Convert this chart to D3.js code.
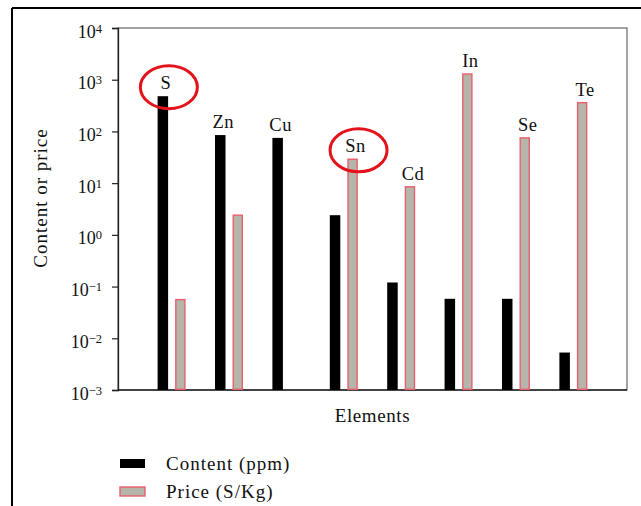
<!DOCTYPE html>
<html>
<head>
<meta charset="utf-8">
<script src="https://cdn.jsdelivr.net/npm/d3@7"></script>
<style>
  body { margin: 0; background: #fff; }
  svg text { font-family: "Liberation Serif", "Times New Roman", Times, "DejaVu Serif", serif; fill: #111; }
</style>
</head>
<body>
<svg id="chart" width="641" height="506"></svg>
<script>
var elements = ["S", "Zn", "Cu", "Sn", "Cd", "In", "Se", "Te"]
var content = [480, 85, 75, 2.4, 0.12, 0.058, 0.058, 0.0053]   // ppm
var price = [0.056, 2.4, null, 29, 8.5, 1290, 75, 360]          // S/Kg
var exponents = [-3, -2, -1, 0, 1, 2, 3, 4]
var circled = ["S", "Sn"]

var svg = d3.select("#chart")
var margin = {left: 118, right: 14, top: 28, bottom: 116}
var W = 641, H = 506

// outer frame (only top and left visible)
svg.append("line").attr("x1", 12).attr("x2", 641).attr("y1", 8).attr("y2", 8)
   .attr("stroke", "#000").attr("stroke-width", 2)
svg.append("line").attr("x1", 12).attr("x2", 12).attr("y1", 8).attr("y2", 506)
   .attr("stroke", "#000").attr("stroke-width", 2)

var x0 = d3.scaleBand()
           .domain(elements)
           .range([margin.left, W - margin.right])
           .paddingInner(0.512)
           .paddingOuter(0.69)

var x1 = d3.scaleBand()
           .domain(["content", "price"])
           .range([0, x0.bandwidth()])
           .paddingInner(0.4)

var y = d3.scaleLog()
          .domain([1e-3, 1e4])
          .range([H - margin.bottom, margin.top])

var g = svg.append("g")

// plot frame
g.append("rect")
 .attr("x", margin.left).attr("y", margin.top)
 .attr("width", W - margin.right - margin.left)
 .attr("height", H - margin.bottom - margin.top)
 .attr("fill", "none").attr("stroke", "#666").attr("stroke-width", 1.2)

var yAxis = d3.axisLeft(y)
              .tickValues(exponents.map(function(e){ return Math.pow(10, e) }))
              .tickSize(6)
              .tickFormat("")

var ya = g.append("g")
          .attr("transform", "translate(" + margin.left + ",0)")
          .call(yAxis)
ya.attr("font-family", null)
ya.select(".domain").attr("stroke", "#222").attr("stroke-width", 1.3)
ya.selectAll(".tick line").attr("stroke", "#222").attr("stroke-width", 1.2).attr("x1", 1)

var lab = ya.selectAll(".tick").append("text")
            .attr("x", -16).attr("dy", "0.5em")
            .attr("text-anchor", "end")
            .style("font-size", "18px")
            .attr("fill", "#111")
lab.append("tspan").text("10")
lab.append("tspan")
   .attr("dy", "-5")
   .style("font-size", "12.5px")
   .text(function(d){ return String(Math.round(Math.log10(d))).replace("-", "\u2212") })

// bottom axis line
g.append("line")
 .attr("x1", margin.left).attr("x2", W - margin.right)
 .attr("y1", y(1e-3)).attr("y2", y(1e-3))
 .attr("stroke", "#222").attr("stroke-width", 1.3)

var groups = g.selectAll(".grp")
              .data(elements).enter()
              .append("g")
              .attr("transform", function(d){ return "translate(" + x0(d) + ",0)" })

groups.append("rect")
      .attr("x", x1("content"))
      .attr("width", x1.bandwidth())
      .attr("y", function(d, i){ return y(content[i]) })
      .attr("height", function(d, i){ return y(1e-3) - y(content[i]) })
      .attr("fill", "#000")

groups.filter(function(d, i){ return price[i] != null })
      .append("rect")
      .attr("x", x1("price") + 0.7)
      .attr("width", x1.bandwidth() - 1.4)
      .attr("y", function(d){ var i = elements.indexOf(d); return y(price[i]) })
      .attr("height", function(d){ var i = elements.indexOf(d); return y(1e-3) - y(price[i]) - 0.7 })
      .attr("fill", "#b5b5aa")
      .attr("stroke", "#e8606c")
      .attr("stroke-width", 1.4)

// element labels above the taller bar of each pair
groups.append("text")
      .attr("x", function(d, i){
          var k = (price[i] != null && price[i] > content[i]) ? "price" : "content"
          return x1(k) + x1.bandwidth() / 2 + 3
      })
      .attr("y", function(d, i){
          var top = Math.max(content[i], price[i] || 0)
          return y(top) - 7
      })
      .attr("text-anchor", "middle")
      .style("font-size", "18.5px")
      .attr("letter-spacing", "0.5")
      .text(function(d){ return d })

// red circles round highlighted labels
groups.filter(function(d){ return circled.indexOf(d) >= 0 })
      .append("ellipse")
      .attr("cx", function(d){
          var i = elements.indexOf(d)
          var k = (price[i] != null && price[i] > content[i]) ? "price" : "content"
          return x1(k) + x1.bandwidth() / 2 + 6
      })
      .attr("cy", function(d){
          var i = elements.indexOf(d)
          return y(Math.max(content[i], price[i] || 0)) - 9
      })
      .attr("rx", 28.5).attr("ry", 21.5)
      .attr("fill", "none")
      .attr("stroke", "#e3131b")
      .attr("stroke-width", 3)

// axis titles
svg.append("text")
   .attr("transform", "translate(47,198) rotate(-90)")
   .attr("text-anchor", "middle")
   .style("font-size", "19px")
   .attr("letter-spacing", "1")
   .text("Content or price")

svg.append("text")
   .attr("x", (margin.left + W - margin.right) / 2)
   .attr("y", 422)
   .attr("text-anchor", "middle")
   .style("font-size", "19px")
   .attr("letter-spacing", "0.6")
   .text("Elements")

// legend
var legend = [
  {label: "Content (ppm)", fill: "#000", stroke: "none"},
  {label: "Price (S/Kg)", fill: "#b5b5aa", stroke: "#e8606c"}
]
var lg = svg.selectAll(".lg")
            .data(legend).enter()
            .append("g")
            .attr("transform", function(d, i){ return "translate(120," + (459 + i * 28) + ")" })
lg.append("rect")
  .attr("width", 25).attr("height", 9)
  .attr("fill", function(d){ return d.fill })
  .attr("stroke", function(d){ return d.stroke })
  .attr("stroke-width", 1.4)
lg.append("text")
  .attr("x", 46).attr("y", 11)
  .style("font-size", "19px")
  .attr("letter-spacing", "1")
  .text(function(d){ return d.label })
</script>
</body>
</html>
